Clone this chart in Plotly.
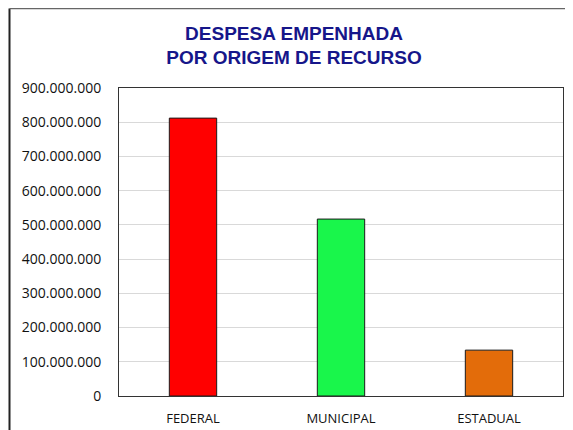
import plotly.graph_objects as go

categories = ["FEDERAL", "MUNICIPAL", "ESTADUAL"]
values = [812000000, 517000000, 134000000]
colors = ["#ff0000", "#19f64b", "#e36c0a"]
tick_vals = [0, 100000000, 200000000, 300000000, 400000000, 500000000,
             600000000, 700000000, 800000000, 900000000]

OFF = 8  # page body margin
W, H = 573 - OFF, 430 - OFF
# target positions in the screenshot, converted to figure coordinates
L = 119 - OFF
T = 88 - OFF
R = W - (563 - OFF)
B = H - (396 - OFF)
pw, ph = W - L - R, H - T - B

fig = go.Figure(go.Bar(
    x=categories, y=values,
    marker=dict(color=colors, line=dict(color="#1a1a1a", width=1)),
    width=0.32,
))

fig.update_layout(
    width=W, height=H,
    margin=dict(l=L, r=R, t=T, b=B, autoexpand=False),
    paper_bgcolor="white", plot_bgcolor="white",
    separators=",.",
    showlegend=False,
    title=dict(
        text="DESPESA EMPENHADA<br>POR ORIGEM DE RECURSO",
        x=(294 - OFF) / W, xanchor="center",
        y=1 - (39.5 - OFF) / H, yanchor="middle",
        font=dict(family="Liberation Sans, Arial",
                  size=19, color="#16168a", weight="bold"),
    ),
    font=dict(family="Open Sans", color="#111111"),
)

fig.update_yaxes(
    range=[0, 900000000], tickvals=tick_vals, tickformat=",d",
    showgrid=True, gridcolor="#d9d9d9", gridwidth=1,
    showline=True, linecolor="#333333", linewidth=1, mirror=True,
    ticks="", tickfont=dict(size=14, family="Open Sans"), ticklabelstandoff=14,
    zeroline=False, fixedrange=True,
)
fig.update_xaxes(
    showline=True, linecolor="#333333", linewidth=1, mirror=True,
    ticks="", tickfont=dict(size=13, family="Open Sans"), ticklabelstandoff=10,
    fixedrange=True,
)

# outer chart frame (only its left and top sides are inside the window)
fx = (9.5 - OFF - L) / pw
fy = (T + ph - 0.5) / ph
fig.add_shape(type="line", xref="paper", yref="paper",
              x0=fx, x1=fx, y0=fy, y1=-(B + 30) / ph,
              line=dict(color="#222222", width=2), layer="below")
fig.add_shape(type="line", xref="paper", yref="paper",
              x0=fx, x1=(W + 30 - L) / pw, y0=fy, y1=fy,
              line=dict(color="#666666", width=1.5), layer="below")

fig.write_html("out.html")
